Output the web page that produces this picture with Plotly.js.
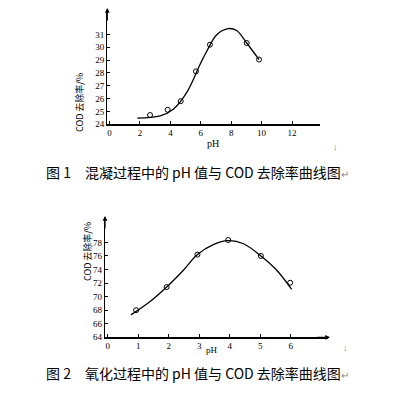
<!DOCTYPE html>
<html><head><meta charset="utf-8">
<script src="https://cdn.plot.ly/plotly-3.0.1.min.js"></script>
<style>html,body{margin:0;padding:0;background:#fff}#c{width:414px;height:396px}</style>
</head><body><div id="c"></div>
<script>
// Figure 1: coagulation
const ph1 = [2.66, 3.82, 4.68, 5.68, 6.6, 9.02, 9.83];
const cod1 = [24.72, 25.13, 25.8, 28.12, 30.2, 30.33, 29.04];
const curvePh1 = [1.82, 3.32, 4.19, 5.07, 5.95, 6.39, 7.05, 7.81, 8.36, 9.02, 9.83];
const curveCod1 = [24.48, 24.66, 25.18, 26.47, 28.66, 29.69, 30.98, 31.45, 31.3, 30.33, 29.04];
const xTicks1 = [0, 2, 4, 6, 8, 10, 12];
const yTicks1 = [24, 25, 26, 27, 28, 29, 30, 31];
// Figure 2: oxidation
const ph2 = [0.93, 1.93, 2.94, 3.95, 5.02, 5.98];
const cod2 = [68.0, 71.41, 76.2, 78.35, 76.0, 72.05];
const curvePh2 = [0.76, 1.39, 1.93, 2.48, 2.94, 3.46, 3.95, 4.45, 5.02, 5.54, 6.03];
const curveCod2 = [67.31, 69.27, 71.41, 73.9, 76.2, 77.66, 78.25, 77.8, 76.0, 73.9, 71.07];
const xTicks2 = [0, 1, 2, 3, 4, 5, 6];
const yTicks2 = [64, 66, 68, 70, 72, 74, 76, 78];
const yTitle = 'COD 去除率/%';
const xTitle = 'pH';
const caption1 = '图 1\u3000混凝过程中的 pH 值与 COD 去除率曲线图';
const caption2 = '图 2\u3000氧化过程中的 pH 值与 COD 去除率曲线图';

const W = 414, H = 396;
const px = v => v / W, py = v => 1 - v / H;
const tickFont = {family: 'Liberation Serif, serif', size: 9, color: '#000'};

function axis(domain, range, ticks) {
  return {domain: domain, range: range, tickmode: 'array', tickvals: ticks, ticktext: ticks.map(String),
    showgrid: false, zeroline: false, showline: true, linecolor: '#000', linewidth: 1.3,
    ticks: 'inside', ticklen: 3, tickcolor: '#000', tickfont: tickFont, fixedrange: true};
}

const lineStyle = {color: '#000', width: 1.3, shape: 'spline', smoothing: 1};
const mk = {symbol: 'circle-open', size: 5, color: '#000', line: {width: 1, color: '#000'}};

const data = [
  {x: curvePh1, y: curveCod1, mode: 'lines', line: lineStyle, xaxis: 'x', yaxis: 'y', hoverinfo: 'skip'},
  {x: ph1, y: cod1, mode: 'markers', marker: mk, xaxis: 'x', yaxis: 'y'},
  {x: curvePh2, y: curveCod2, mode: 'lines', line: lineStyle, xaxis: 'x2', yaxis: 'y2', hoverinfo: 'skip'},
  {x: ph2, y: cod2, mode: 'markers', marker: mk, xaxis: 'x2', yaxis: 'y2'}
];

const capFont = {family: 'Noto Sans CJK SC, sans-serif', size: 14, color: '#000'};
const arrow = (x, y, ax, ay) => ({x: px(x), y: py(y), xref: 'paper', yref: 'paper', text: '', showarrow: true,
  ax: ax, ay: ay, arrowhead: 2, arrowsize: 0.8, arrowwidth: 1.2, arrowcolor: '#000'});
const yTitleFont = {family: 'Noto Sans CJK SC, sans-serif', size: 9, color: '#000'};

const layout = {
  width: W, height: H, margin: {l: 0, r: 0, t: 0, b: 0},
  paper_bgcolor: '#fff', plot_bgcolor: 'rgba(0,0,0,0)', showlegend: false,
  xaxis: Object.assign(axis([px(107.3), px(320)], [-0.15, 13.84], xTicks1), {anchor: 'y'}),
  yaxis: Object.assign(axis([py(124.3), py(10)], [24.0, 32.9], yTicks1), {anchor: 'x'}),
  xaxis2: Object.assign(axis([px(105), px(328)], [-0.09, 7.22], xTicks2), {anchor: 'y2'}),
  yaxis2: Object.assign(axis([py(337.3), py(218)], [64.0, 81.6], yTicks2), {anchor: 'x2'}),
  annotations: [
    {x: px(72), y: py(72), xref: 'paper', yref: 'paper', text: yTitle, textangle: -90, showarrow: false,
     font: yTitleFont, borderpad: 0},
    {x: px(80), y: py(282), xref: 'paper', yref: 'paper', text: yTitle, textangle: -90, showarrow: false,
     font: yTitleFont, borderpad: 0},
    {x: px(213), y: py(143), xref: 'paper', yref: 'paper', text: xTitle, showarrow: false,
     font: {family: 'Liberation Serif, serif', size: 10, color: '#000'}, borderpad: 0},
    {x: px(212), y: py(356), xref: 'paper', yref: 'paper', text: xTitle, showarrow: false,
     font: {family: 'Liberation Serif, serif', size: 9, color: '#000'}, borderpad: 0},
    {x: px(45), y: py(161), xref: 'paper', yref: 'paper', xanchor: 'left', yanchor: 'top', borderpad: 0,
     text: caption1 + '<span style="color:#888;font-size:10px">↵</span>', showarrow: false, font: capFont},
    {x: px(45), y: py(362), xref: 'paper', yref: 'paper', xanchor: 'left', yanchor: 'top', borderpad: 0,
     text: caption2 + '<span style="color:#888;font-size:10px">↵</span>', showarrow: false, font: capFont},
    {x: px(340), y: py(146), xref: 'paper', yref: 'paper', text: '↓', showarrow: false, font: {size: 9, color: '#888'}},
    {x: px(350), y: py(356), xref: 'paper', yref: 'paper', text: '↓', showarrow: false, font: {size: 9, color: '#888'}},
    arrow(107.3, 8, 0, 14),
    arrow(105, 216, 0, 14),
    arrow(330, 337.3, -14, 0)
  ]
};

Plotly.newPlot('c', data, layout, {staticPlot: true, displayModeBar: false});
</script></body></html>
